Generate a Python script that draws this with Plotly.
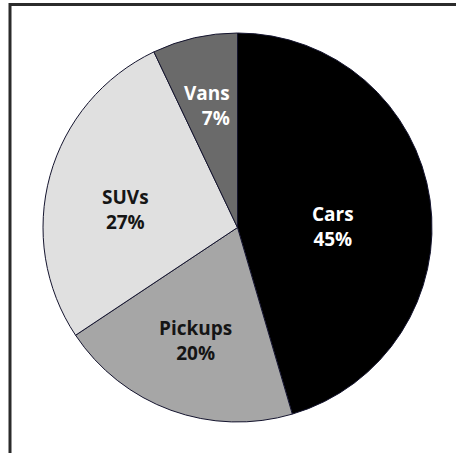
import math
import plotly.graph_objects as go

# Vehicle mix by category
categories = ["Cars", "Pickups", "SUVs", "Vans"]
shares = [45, 20, 27, 7]

slice_colors = ["#000000", "#a6a6a6", "#e0e0e0", "#6a6a6a"]
label_colors = ["#ffffff", "#151515", "#151515", "#ffffff"]
label_align = ["center", "center", "center", "right"]
# label placement inside each slice: (clockwise angle from 12 o'clock, fraction of radius)
label_polar = [(89.2, 0.49), (200.2, 0.62), (279.1, 0.585), (345.9, 0.645)]

W, H = 456, 453
CX, CY, R = 237.5, 227.5, 194.5  # pie centre and radius in pixels

fig = go.Figure(
    go.Pie(
        labels=categories,
        values=shares,
        sort=False,
        direction="clockwise",
        rotation=0,
        marker=dict(colors=slice_colors, line=dict(color="#14142e", width=1)),
        textinfo="none",
        hoverinfo="label+value",
        showlegend=False,
        domain=dict(x=[(CX - R) / W, (CX + R) / W],
                    y=[1 - (CY + R) / H, 1 - (CY - R) / H]),
    )
)

# Category name and share inside each slice
for name, val, col, al, (ang, frac) in zip(categories, shares, label_colors,
                                             label_align, label_polar):
    a = math.radians(ang)
    px = CX + frac * R * math.sin(a)
    py = CY - frac * R * math.cos(a)
    fig.add_annotation(
        x=px / W, y=1 - py / H, xref="paper", yref="paper",
        text=f"<b>{name}</b><br><b>{val}%</b>",
        showarrow=False, align=al, xanchor="center", yanchor="middle",
        font=dict(family="Open Sans", size=19, color=col),
    )

# Partial frame along the top and left edges
fig.add_shape(type="line", xref="paper", yref="paper",
              x0=10 / W, x1=1.02, y0=1 - 4.5 / H, y1=1 - 4.5 / H,
              line=dict(color="#2b2b2b", width=3))
fig.add_shape(type="line", xref="paper", yref="paper",
              x0=10 / W, x1=10 / W, y0=-0.02, y1=1 - 3 / H,
              line=dict(color="#2b2b2b", width=3))

fig.update_layout(
    width=W,
    height=H,
    margin=dict(l=0, r=0, t=0, b=0),
    paper_bgcolor="#ffffff",
    plot_bgcolor="#ffffff",
)

fig.write_html("out.html")
